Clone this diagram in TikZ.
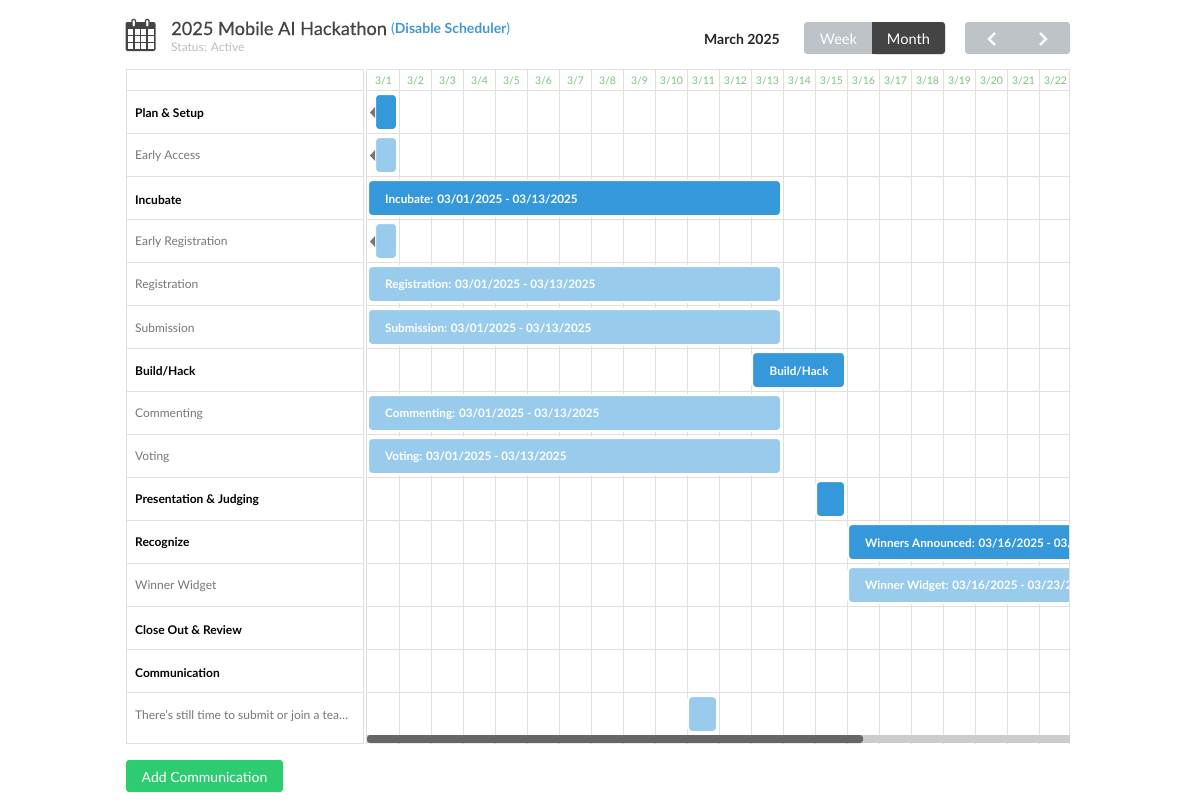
\documentclass[tikz,border=0pt]{standalone}
\usepackage{fontspec}
\setmainfont{Lato}
\usetikzlibrary{calc}
\definecolor{gridgray}{HTML}{E0E0E0}
\definecolor{bardark}{HTML}{3498DB}
\definecolor{barlight}{HTML}{99CBED}
\definecolor{btngray}{HTML}{BDC3C7}
\definecolor{btndark}{HTML}{444444}
\definecolor{btngreen}{HTML}{2ECC71}
\definecolor{datetxt}{HTML}{7DC47F}
\definecolor{linkblue}{HTML}{3F97DB}
\definecolor{labgray}{HTML}{777777}
\tikzset{
  gridline/.style={gridgray,line width=1.2},
  barmain/.style={fill=bardark,draw=white,line width=2,rounded corners=4,inner sep=0,outer sep=0,anchor=north west},
  barsub/.style={barmain,fill=barlight},
  bartext/.style={text=white,font=\bfseries\fontsize{11.7}{14}\selectfont,anchor=west,inner sep=0},
  rowmain/.style={text=black,font=\bfseries\fontsize{12}{14}\selectfont,anchor=west,inner sep=0},
  rowsub/.style={text=labgray,font=\fontsize{12}{14}\selectfont,anchor=west,inner sep=0},
  daylab/.style={text=datetxt,font=\fontsize{10.5}{12}\selectfont,inner sep=0},
  btnlab/.style={text=white,font=\fontsize{14.6}{18}\selectfont,inner sep=0},
  flag/.style={fill=labgray,draw=none}
}
\begin{document}
\begin{tikzpicture}[x=1pt,y=-1pt]
\useasboundingbox (0,0) rectangle (1195,806);
\fill[white] (0,0) rectangle (1195,806);

% title block
\fill[btndark,rounded corners=2] (125.5,22) rectangle (155.5,51);
\draw[btndark,line width=1.4,fill=white,rounded corners=1] (132,19.5) rectangle (135.5,27);
\draw[btndark,line width=1.4,fill=white,rounded corners=1] (145.5,19.5) rectangle (149,27);
\fill[white] (127.5,29) rectangle (153.5,49);
\foreach \x in {134,140.5,147}
  \draw[btndark,line width=1.2] (\x,29) -- (\x,49);
\foreach \y in {35.7,42.3}
  \draw[btndark,line width=1.2] (127.5,\y) -- (153.5,\y);
\node[anchor=base west,inner sep=0,text=btndark,font=\addfontfeature{FakeBold=0.3}\fontsize{18.2}{22}\selectfont] (title) at (171,35) {2025 Mobile AI Hackathon};
\node[anchor=base west,inner sep=0,text=linkblue,font=\fontsize{14}{16}\selectfont] (sched) at (391,33) {(\textbf{Disable Scheduler})};
\node[anchor=base west,inner sep=0,text=gridgray!85!black,font=\fontsize{12}{14}\selectfont] (status) at (171,51) {Status: Active};
\node[inner sep=0,font=\bfseries\fontsize{14}{16}\selectfont,text=black!85] (month) at (742,39) {March 2025};

% buttons
\fill[btngray,rounded corners=3] (804,22) rectangle (945,54);
\fill[btndark,rounded corners=3] (872,22) rectangle (945,54);
\fill[btndark] (872,22) rectangle (876,54);
\node[btnlab] (week) at (838.5,39) {Week};
\node[btnlab] (mon) at (908.5,39) {Month};
\fill[btngray,rounded corners=3] (965,22) rectangle (1070,54);
\draw[white,line width=2.2] (995,33) -- (989,39) -- (995,45);
\draw[white,line width=2.2] (1040,33) -- (1046,39) -- (1040,45);
\fill[btngreen,rounded corners=3] (126,760) rectangle (283,792);
\node[btnlab,font=\fontsize{14}{18}\selectfont] (addcomm) at (204.5,777) {Add Communication};

% left table
\draw[gridline] (126.5,69.5) rectangle (363.5,743.5);
\foreach \i in {0,...,14}
  \draw[gridline] (126.5,90.5+43*\i) -- (363.5,90.5+43*\i);
\draw[gridline] (366.5,69.5) -- (366.5,743.5);

% chart grid
\draw[gridline] (366.5,69.5) -- (1070,69.5);
\foreach \i in {0,...,14}
  \draw[gridline] (366.5,90.5+43*\i) -- (1069.5,90.5+43*\i);
\foreach \i in {1,...,21}
  \draw[gridline] (367.5+32*\i,69.5) -- (367.5+32*\i,743.5);
\foreach \i in {1,...,22}
  \node[daylab] (day\i) at (351.5+32*\i,80.5) {3/\i};

% row labels
\foreach \i/\s/\t in {0/rowmain/Plan \& Setup,1/rowsub/Early Access,2/rowmain/Incubate,
  3/rowsub/Early Registration,4/rowsub/Registration,5/rowsub/Submission,6/rowmain/Build\slash Hack,
  7/rowsub/Commenting,8/rowsub/Voting,9/rowmain/Presentation \& Judging,10/rowmain/Recognize,
  11/rowsub/Winner Widget,12/rowmain/Close Out \& Review,13/rowmain/Communication,
  14/rowsub/There's still time to submit or join a tea\dots}
  \node[\s] (row\i) at (135,113.6+43*\i) {\t};

% bars
\begin{scope}
\clip (367,69) rectangle (1069,744);
\foreach \n/\s/\r/\a/\b in {plan/barmain/0/376/396,access/barsub/1/376/396,incubate/barmain/2/369/780,
  earlyreg/barsub/3/376/396,regist/barsub/4/369/780,submit/barsub/5/369/780,build/barmain/6/753/844,
  comment/barsub/7/369/780,voting/barsub/8/369/780,judging/barmain/9/817/844,winners/barmain/10/849/1090,
  widget/barsub/11/849/1090,message/barsub/14/689/716}
  \node[\s,minimum width=\b-\a+2,minimum height=36] (\n) at (\a-1,94+43*\r) {};
\node[bartext] (incubatetxt) at (385,199.6) {Incubate: 03/01/2025 - 03/13/2025};
\node[bartext] (registtxt) at (385,285.6) {Registration: 03/01/2025 - 03/13/2025};
\node[bartext] (submittxt) at (385,328.6) {Submission: 03/01/2025 - 03/13/2025};
\node[bartext] (commenttxt) at (385,414.6) {Commenting: 03/01/2025 - 03/13/2025};
\node[bartext] (votingtxt) at (385,457.6) {Voting: 03/01/2025 - 03/13/2025};
\begin{scope}
\clip (760,350) rectangle (827.5,390);
\node[bartext] (buildtxt) at (769.5,371.6) {Build/Hack};
\end{scope}
\node[bartext] (winnerstxt) at (865,543.6) {Winners Announced: 03/16/2025 - 03/};
\node[bartext] (widgettxt) at (865,586.6) {Winner Widget: 03/16/2025 - 03/23/2};
\end{scope}
\draw[gridline] (1069.5,69.5) -- (1069.5,743.5);

% flags for bars that start earlier
\foreach \r in {0,1,3}
  \fill[flag] (370,112.5+43*\r) -- (375,107+43*\r) -- (375,118+43*\r) -- cycle;

% scroll bar
\fill[black!20] (367,735) rectangle (1070,743);
\fill[black!60,rounded corners=3] (367,735) rectangle (863,743);
\end{tikzpicture}
\end{document}
